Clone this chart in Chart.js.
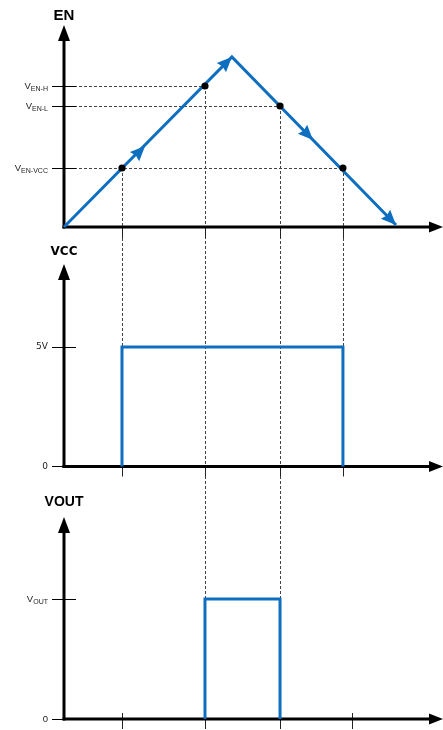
<!DOCTYPE html>
<html><head><meta charset="utf-8">
<script src="https://cdn.jsdelivr.net/npm/chart.js@4"></script>
<style>html,body{margin:0;padding:0;background:#fff}#wrap{width:443px;height:730px}</style>
</head><body><div id="wrap"><canvas id="c" width="443" height="730"></canvas></div>
<script>
// ---------- data ----------
const enTime = [0, 44.3, 87.6];            // EN ramp: start, peak, end
const enLevel = [0, 1.70, 0.02];
const thresholdMain = ['V', 'V', 'V'];
const thresholdSub = ['EN-H', 'EN-L', 'EN-VCC'];
const thresholdValues = [1.41, 1.21, 0.59];
const crossTime = [15.3, 37.2, 57.0, 73.6];  // EN crosses a threshold
const crossLevel = [0.59, 1.41, 1.21, 0.59];
const vccTime = [15.3, 15.3, 73.6, 73.6];
const vccLevel = [0, 5, 5, 0];
const vccTickValues = [0, 5];
const vccTickLabels = ['0', '5V'];
const voutTime = [37.2, 37.2, 57.0, 57.0];
const voutLevel = [0, 3.3, 3.3, 0];
const voutTickValues = [0, 3.3];
const voutTickMain = ['0', 'V'];
const voutTickSub = ['', 'OUT'];
const voutTimeTicks = [15.3, 37.2, 57.0, 76.0];
const arrowTime = [21.4, 44.3, 65.7, 87.6];
const arrowLevel = [0.81, 1.70, 0.87, 0.02];

// ---------- layout ----------
const H = 730;
const PANEL = {
  yEN:   {zeroPx: 227,   pxPerUnit: 100,     topPx: 25,  title: 'EN',   titleFont: 'bold 15px "Liberation Sans", Arial, sans-serif', titleY: 16},
  yVCC:  {zeroPx: 466.5, pxPerUnit: 23.9,    topPx: 264, title: 'VCC',  titleFont: 'bold 12px "DejaVu Sans", sans-serif', titleY: 252},
  yVOUT: {zeroPx: 719,   pxPerUnit: 120/3.3, topPx: 517, title: 'VOUT', titleFont: 'bold 14px "Liberation Sans", Arial, sans-serif', titleY: 502}
};
const BLUE = '#0E6FC1';
const pts = (xs, ys) => xs.map((x, i) => ({x, y: ys[i]}));
function yScale(id) {
  const p = PANEL[id];
  return {type: 'linear', display: false, bounds: 'data',
          min: -(H - p.zeroPx) / p.pxPerUnit, max: p.zeroPx / p.pxPerUnit};
}

function subLabel(ctx, main, sub, xRight, y, size, color) {
  const mf = size + 'px "Liberation Sans", Arial, sans-serif';
  const sf = (size * 0.74) + 'px "Liberation Sans", Arial, sans-serif';
  ctx.font = mf; const w1 = ctx.measureText(main).width;
  ctx.font = sf; const w2 = sub ? ctx.measureText(sub).width : 0;
  const x = xRight - w1 - w2;
  ctx.fillStyle = color; ctx.textAlign = 'left'; ctx.textBaseline = 'alphabetic';
  ctx.font = mf; ctx.fillText(main, x, y + size * 0.36);
  if (sub) { ctx.font = sf; ctx.fillText(sub, x + w1, y + size * 0.36 + 1.5); }
}

const decor = {
  id: 'decor',
  beforeDatasetsDraw(chart) {
    const ctx = chart.ctx, xs = chart.scales.x;
    const x0 = xs.getPixelForValue(0), xEnd = xs.getPixelForValue(100);
    const en = chart.scales.yEN, vcc = chart.scales.yVCC, vout = chart.scales.yVOUT;
    ctx.save();
    // dashed guide lines
    ctx.setLineDash([3, 2]); ctx.lineWidth = 1; ctx.strokeStyle = '#444';
    thresholdValues.forEach(v => {
      let tMax = 0;
      crossTime.forEach((t, i) => { if (Math.abs(crossLevel[i] - v) < 1e-6) tMax = Math.max(tMax, t); });
      const y = Math.round(en.getPixelForValue(v)) + 0.5;
      ctx.beginPath(); ctx.moveTo(x0, y); ctx.lineTo(xs.getPixelForValue(tMax), y); ctx.stroke();
    });
    crossTime.forEach((t, i) => {
      const x = Math.round(xs.getPixelForValue(t)) + 0.5;
      const yStart = en.getPixelForValue(crossLevel[i]);
      const yEnd = voutTime.includes(t) ? vout.getPixelForValue(voutLevel[1]) : vcc.getPixelForValue(vccLevel[1]);
      ctx.beginPath(); ctx.moveTo(x, yStart); ctx.lineTo(x, yEnd); ctx.stroke();
    });
    ctx.setLineDash([]);
    // time ticks on x axes
    ctx.strokeStyle = '#222'; ctx.lineWidth = 1;
    const tick = (t, sc, up, down) => {
      const x = Math.round(xs.getPixelForValue(t)) + 0.5, y = sc.getPixelForValue(0);
      ctx.beginPath(); ctx.moveTo(x, y - up); ctx.lineTo(x, y + down); ctx.stroke();
    };
    crossTime.forEach(t => tick(t, en, 0, 11));
    crossTime.forEach(t => tick(t, vcc, 0, 10));
    voutTimeTicks.forEach(t => tick(t, vout, 6, 10));
    // axes with arrowheads
    Object.keys(PANEL).forEach(id => {
      const p = PANEL[id], sc = chart.scales[id];
      const y0 = sc.getPixelForValue(0);
      const yTop = sc.getPixelForValue((p.zeroPx - p.topPx) / p.pxPerUnit);
      ctx.strokeStyle = '#000'; ctx.fillStyle = '#000'; ctx.lineWidth = 3;
      ctx.beginPath(); ctx.moveTo(x0, y0 + 1.5); ctx.lineTo(x0, yTop + 12); ctx.stroke();
      ctx.beginPath(); ctx.moveTo(x0, yTop); ctx.lineTo(x0 - 6, yTop + 16); ctx.lineTo(x0 + 6, yTop + 16); ctx.closePath(); ctx.fill();
      ctx.beginPath(); ctx.moveTo(x0 - 1.5, y0); ctx.lineTo(xEnd - 10, y0); ctx.stroke();
      ctx.beginPath(); ctx.moveTo(xEnd, y0); ctx.lineTo(xEnd - 14, y0 - 5.5); ctx.lineTo(xEnd - 14, y0 + 5.5); ctx.closePath(); ctx.fill();
      ctx.font = p.titleFont; ctx.textAlign = 'center'; ctx.textBaseline = 'middle';
      ctx.fillText(p.title, x0, p.titleY);
    });
    // value ticks + labels
    ctx.lineWidth = 1; ctx.strokeStyle = '#000';
    const yTick = (sc, v, both) => {
      const y = Math.round(sc.getPixelForValue(v)) + 0.5;
      ctx.beginPath(); ctx.moveTo(x0 - 12, y); ctx.lineTo(both ? x0 + 12 : x0, y); ctx.stroke();
      return sc.getPixelForValue(v);
    };
    thresholdValues.forEach((v, i) => {
      const y = yTick(en, v, true);
      subLabel(ctx, thresholdMain[i], thresholdSub[i], x0 - 16, y, 9.5, '#222');
    });
    vccTickValues.forEach((v, i) => {
      const y = yTick(vcc, v, v !== 0);
      ctx.font = '9px "DejaVu Sans", sans-serif'; ctx.fillStyle = '#222';
      ctx.textAlign = 'right'; ctx.textBaseline = 'middle';
      ctx.fillText(vccTickLabels[i], x0 - 16, y);
    });
    voutTickValues.forEach((v, i) => {
      const y = yTick(vout, v, v !== 0);
      subLabel(ctx, voutTickMain[i], voutTickSub[i], x0 - 16, y, 9.5, '#222');
    });
    ctx.restore();
  },
  afterDatasetsDraw(chart) {
    const ctx = chart.ctx, xs = chart.scales.x, en = chart.scales.yEN;
    ctx.save(); ctx.fillStyle = BLUE;
    arrowTime.forEach((t, i) => {
      const seg = t <= enTime[1] ? 0 : 1;
      const ax = xs.getPixelForValue(enTime[seg]), ay = en.getPixelForValue(enLevel[seg]);
      const bx = xs.getPixelForValue(enTime[seg + 1]), by = en.getPixelForValue(enLevel[seg + 1]);
      const len = Math.hypot(bx - ax, by - ay), ux = (bx - ax) / len, uy = (by - ay) / len;
      const tx = xs.getPixelForValue(t), ty = en.getPixelForValue(arrowLevel[i]);
      const L = 15, W = 6.5;
      const cx = tx - ux * L, cy = ty - uy * L;
      ctx.beginPath(); ctx.moveTo(tx, ty);
      ctx.lineTo(cx - uy * W, cy + ux * W);
      ctx.lineTo(tx - ux * L * 0.88, ty - uy * L * 0.88);
      ctx.lineTo(cx + uy * W, cy - ux * W);
      ctx.closePath(); ctx.fill();
    });
    ctx.restore();
  }
};

new Chart(document.getElementById('c'), {
  type: 'scatter',
  data: {
    datasets: [
      {label: 'crossings', data: pts(crossTime, crossLevel), yAxisID: 'yEN', order: 0,
       pointRadius: 3.6, pointBackgroundColor: '#000', pointBorderWidth: 0, showLine: false, clip: false},
      {label: 'EN', data: pts(enTime, enLevel), yAxisID: 'yEN', order: 1, showLine: true,
       borderColor: BLUE, borderWidth: 3, pointRadius: 0, tension: 0, clip: false},
      {label: 'VCC', data: pts(vccTime, vccLevel), yAxisID: 'yVCC', order: 1, showLine: true,
       borderColor: BLUE, borderWidth: 3, pointRadius: 0, tension: 0, clip: false},
      {label: 'VOUT', data: pts(voutTime, voutLevel), yAxisID: 'yVOUT', order: 1, showLine: true,
       borderColor: BLUE, borderWidth: 3, pointRadius: 0, tension: 0, clip: false}
    ]
  },
  options: {
    responsive: false, animation: false, devicePixelRatio: 1,
    layout: {autoPadding: false, padding: {left: 64, right: 0, top: 0, bottom: 0}},
    plugins: {legend: {display: false}, tooltip: {enabled: false}},
    events: [],
    scales: {
      x: {type: 'linear', display: false, bounds: 'data', min: 0, max: 100},
      yEN: yScale('yEN'), yVCC: yScale('yVCC'), yVOUT: yScale('yVOUT')
    }
  },
  plugins: [decor]
});
</script>
</body></html>
